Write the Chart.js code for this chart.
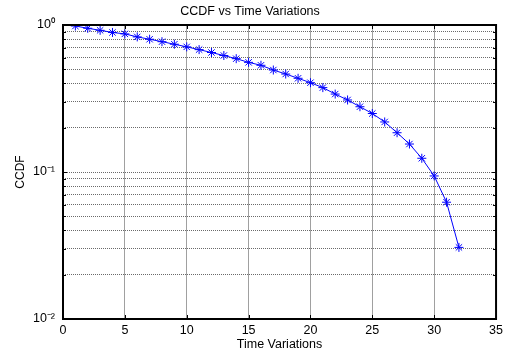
<!DOCTYPE html>
<html>
<head>
<meta charset="utf-8">
<script src="https://cdn.jsdelivr.net/npm/chart.js@4.4.0/dist/chart.umd.min.js"></script>
<style>
  html, body { margin: 0; padding: 0; background: #fff; }
  #wrap { width: 507px; height: 352px; }
</style>
</head>
<body>
<div id="wrap"><canvas id="ccdf" width="507" height="352"></canvas></div>
<script>
  // data (x = time variation index, y = CCDF)
  var timeSteps = [1,2,3,4,5,6,7,8,9,10,11,12,13,14,15,16,17,18,19,20,21,22,23,24,25,26,27,28,29,30,31,32];
  var ccdfValues = [0.984,0.95,0.92,0.89,0.87,0.83,0.80,0.77,0.74,0.71,0.68,0.65,0.62,0.59,0.557,
                    0.532,0.494,0.464,0.434,0.405,0.375,0.339,0.309,0.278,0.250,0.219,0.185,0.155,0.124,0.094,
                    0.0623,0.0307];

  var xTicks = [0,5,10,15,20,25,30,35];
  var yTicks = [0.01,0.02,0.03,0.04,0.05,0.06,0.07,0.08,0.09,
                0.1,0.2,0.3,0.4,0.5,0.6,0.7,0.8,0.9,1];
  var yLabels = { '1': '10⁰', '0.1': '10⁻¹', '0.01': '10⁻²' };

  var font = "'Liberation Sans', Arial, sans-serif";

  // matlab style box + inward ticks
  var frameBox = {
    id: 'frameBox',
    afterDatasetsDraw: function(chart) {
      var c = chart.ctx, a = chart.chartArea;
      var xs = chart.scales.x, ys = chart.scales.y;
      c.save();
      c.strokeStyle = '#000';
      c.lineWidth = 1;
      c.beginPath();
      xTicks.forEach(function(t) {
        var px = Math.round(xs.getPixelForValue(t)) + 0.5;
        c.moveTo(px, a.bottom); c.lineTo(px, a.bottom - 4);
        c.moveTo(px, a.top); c.lineTo(px, a.top + 4);
      });
      yTicks.forEach(function(t) {
        var py = Math.round(ys.getPixelForValue(t)) + 0.5;
        var len = yLabels[String(t)] ? 4 : 3;
        c.moveTo(a.left, py); c.lineTo(a.left + len, py);
        c.moveTo(a.right, py); c.lineTo(a.right - len, py);
      });
      c.stroke();
      c.lineWidth = 2;
      c.strokeRect(a.left, a.top, a.right - a.left, a.bottom - a.top);
      c.restore();
    }
  };

  var points = timeSteps.map(function(t, i) { return { x: t, y: ccdfValues[i] }; });

  var ctx = document.getElementById('ccdf').getContext('2d');
  var chart = new Chart(ctx, {
    type: 'line',
    data: {
      datasets: [{
        data: points,
        borderColor: '#0000ff',
        backgroundColor: '#0000ff',
        borderWidth: 1,
        pointStyle: 'star',
        pointRadius: 4.5,
        pointBorderWidth: 1,
        pointBorderColor: '#0000ff',
        fill: false,
        tension: 0
      }]
    },
    options: {
      responsive: false,
      devicePixelRatio: 1,
      animation: false,
      layout: { padding: { left: 0, right: 7, top: 0, bottom: 0 } },
      plugins: {
        legend: { display: false },
        tooltip: { enabled: false },
        title: {
          display: true,
          text: 'CCDF vs Time Variations',
          color: '#000',
          font: { family: font, size: 12.5, weight: 'normal' },
          padding: { top: 4, bottom: 6 }
        }
      },
      scales: {
        x: {
          type: 'linear',
          min: 0,
          max: 35,
          afterBuildTicks: function(scale) {
            scale.ticks = xTicks.map(function(v) { return { value: v }; });
          },
          afterFit: function(scale) { scale.height = 33; },
          ticks: {
            color: '#000',
            padding: 4,
            maxRotation: 0,
            font: { family: font, size: 12.5 }
          },
          grid: { color: '#a0a0a0', lineWidth: 1, drawTicks: false },
          border: { display: false },
          title: {
            display: true,
            text: 'Time Variations',
            color: '#000',
            font: { family: font, size: 12.5 },
            padding: { top: 0, bottom: 0 }
          }
        },
        y: {
          type: 'logarithmic',
          min: 0.01,
          max: 1,
          afterBuildTicks: function(scale) {
            scale.ticks = yTicks.map(function(v) { return { value: v }; });
          },
          afterFit: function(scale) { scale.width = 63; },
          ticks: {
            color: '#000',
            padding: 8,
            autoSkip: false,
            font: { family: font, size: 12.5 },
            callback: function(v) { return yLabels[String(v)] || ''; }
          },
          grid: { color: '#6a6a6a', lineWidth: 1, drawTicks: false },
          // dotted horizontal grid, like matlab's ':' style
          border: { display: false, dash: [1, 1] },
          title: {
            display: true,
            text: 'CCDF',
            color: '#000',
            font: { family: font, size: 12 },
            padding: { top: 13, bottom: 0 }
          }
        }
      }
    },
    plugins: [frameBox]
  });
</script>
</body>
</html>
